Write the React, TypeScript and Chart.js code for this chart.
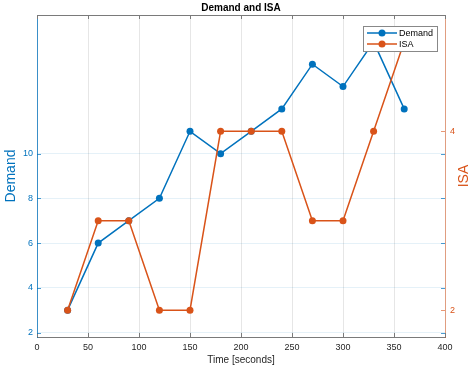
import { useEffect, useRef } from "react";
import { Chart, registerables } from "chart.js";

Chart.register(...registerables);

// Sampled every 30 seconds
const timeSeconds = [30, 60, 90, 120, 150, 180, 210, 240, 270, 300, 330, 360];
const demand = [3, 6, 7, 8, 11, 10, 11, 12, 14, 13, 15, 12];
const isa = [2, 3, 3, 2, 2, 4, 4, 4, 3, 3, 4, 5];

const timeTicks = [0, 50, 100, 150, 200, 250, 300, 350, 400];
const demandTicks = [2, 4, 6, 8, 10];
const isaTicks = [2, 4];
const timeRange = [0, 400];
const demandRange = [1.8, 16.2];
const isaRange = [1.7, 5.3];

const BLUE = "#0072BD";
const ORANGE = "#D95319";
const DARK = "#262626";
const FONT = "'Liberation Sans', Arial, Helvetica, sans-serif";

const W = 469;
const H = 368;

const framePlugin = {
  id: "frame",
  afterDraw(chart: any) {
    const ctx = chart.ctx as CanvasRenderingContext2D;
    const { left, right, top, bottom } = chart.chartArea;
    const sx = chart.scales.x;
    const sl = chart.scales.yL;
    const sr = chart.scales.yR;
    const tl = 4;
    ctx.save();

    // top box edge
    ctx.strokeStyle = "#7a7a7a";
    ctx.lineWidth = 1;
    ctx.beginPath();
    ctx.moveTo(left, top + 0.5);
    ctx.lineTo(right, top + 0.5);
    ctx.stroke();

    // inward tick marks on x (bottom and top)
    ctx.beginPath();
    for (const v of timeTicks) {
      const px = Math.round(sx.getPixelForValue(v)) + 0.5;
      ctx.moveTo(px, bottom);
      ctx.lineTo(px, bottom - tl);
      ctx.moveTo(px, top);
      ctx.lineTo(px, top + tl);
    }
    ctx.stroke();

    // left-axis ticks on both sides
    ctx.strokeStyle = "rgba(0,114,189,0.7)";
    ctx.beginPath();
    for (const v of demandTicks) {
      const py = Math.round(sl.getPixelForValue(v)) + 0.5;
      ctx.moveTo(left, py);
      ctx.lineTo(left + tl, py);
      ctx.moveTo(right, py);
      ctx.lineTo(right - tl, py);
    }
    ctx.stroke();

    // right-axis ticks
    ctx.strokeStyle = "rgba(217,83,25,0.6)";
    ctx.beginPath();
    for (const v of isaTicks) {
      const py = Math.round(sr.getPixelForValue(v)) + 0.5;
      ctx.moveTo(right, py);
      ctx.lineTo(right - tl, py);
    }
    ctx.stroke();

    // right axis label, reading bottom-to-top
    ctx.fillStyle = ORANGE;
    ctx.font = `14px ${FONT}`;
    ctx.textAlign = "center";
    ctx.textBaseline = "middle";
    ctx.translate(464, (top + bottom) / 2);
    ctx.rotate(-Math.PI / 2);
    ctx.fillText("ISA", 0, 0);
    ctx.setTransform(1, 0, 0, 1, 0, 0);

    // title
    ctx.fillStyle = "#000";
    ctx.font = `bold 10px ${FONT}`;
    ctx.textAlign = "center";
    ctx.textBaseline = "middle";
    ctx.fillText("Demand and ISA", (left + right) / 2, 8);

    // legend box
    const bx = right - 82;
    const by = top + 11;
    const bw = 75;
    const bh = 26;
    ctx.fillStyle = "#fff";
    ctx.fillRect(bx, by, bw, bh);
    ctx.strokeStyle = "#888";
    ctx.lineWidth = 1;
    ctx.strokeRect(bx + 0.5, by + 0.5, bw - 1, bh - 1);

    const items = chart.data.datasets.map((d: any) => ({ label: d.label, color: d.borderColor }));
    items.forEach((it: any, i: number) => {
      const y = by + 7 + i * 11;
      ctx.strokeStyle = it.color;
      ctx.lineWidth = 1.5;
      ctx.beginPath();
      ctx.moveTo(bx + 4, y);
      ctx.lineTo(bx + 34, y);
      ctx.stroke();
      ctx.fillStyle = it.color;
      ctx.beginPath();
      ctx.arc(bx + 19, y, 3.5, 0, Math.PI * 2);
      ctx.fill();
      ctx.fillStyle = "#000";
      ctx.font = `9px ${FONT}`;
      ctx.textAlign = "left";
      ctx.textBaseline = "middle";
      ctx.fillText(it.label, bx + 36, y + 0.5);
    });

    ctx.restore();
  },
};

const fixedTicks = (values: number[]) => (scale: any) => {
  scale.ticks = values.map((v) => ({ value: v }));
};

export default function App() {
  const canvasRef = useRef<HTMLCanvasElement | null>(null);

  useEffect(() => {
    const canvas = canvasRef.current;
    if (!canvas) return;
    const chart = new Chart(canvas, {
      type: "line",
      data: {
        datasets: [
          {
            label: "Demand",
            data: timeSeconds.map((t, i) => ({ x: t, y: demand[i] })),
            borderColor: BLUE,
            backgroundColor: BLUE,
            pointBackgroundColor: BLUE,
            pointBorderWidth: 0,
            pointRadius: 3.5,
            borderWidth: 1.5,
            xAxisID: "x",
            yAxisID: "yL",
            order: 1,
          },
          {
            label: "ISA",
            data: timeSeconds.map((t, i) => ({ x: t, y: isa[i] })),
            borderColor: ORANGE,
            backgroundColor: ORANGE,
            pointBackgroundColor: ORANGE,
            pointBorderWidth: 0,
            pointRadius: 3.5,
            borderWidth: 1.5,
            xAxisID: "x",
            yAxisID: "yR",
            order: 0,
          },
        ],
      },
      options: {
        responsive: false,
        animation: false,
        events: [],
        layout: { padding: { top: 15, left: 0, right: 0, bottom: 0 } },
        plugins: {
          legend: { display: false },
          title: { display: false },
          tooltip: { enabled: false },
        },
        scales: {
          x: {
            type: "linear",
            position: "bottom",
            min: timeRange[0],
            max: timeRange[1],
            afterBuildTicks: fixedTicks(timeTicks),
            afterFit: (s: any) => {
              s.height = 31;
            },
            grid: { color: "#e6e6e6", drawTicks: false },
            border: { color: "#7a7a7a" },
            ticks: { color: DARK, font: { family: FONT, size: 9 }, padding: 5, maxRotation: 0 },
            title: {
              display: true,
              text: "Time [seconds]",
              color: DARK,
              font: { family: FONT, size: 10 },
              padding: { top: 0, bottom: 2 },
            },
          },
          yL: {
            type: "linear",
            position: "left",
            min: demandRange[0],
            max: demandRange[1],
            afterBuildTicks: fixedTicks(demandTicks),
            afterFit: (s: any) => {
              s.width = 37;
            },
            grid: { color: "rgba(0,114,189,0.1)", drawTicks: false },
            border: { color: "rgba(0,114,189,0.75)" },
            ticks: { color: BLUE, font: { family: FONT, size: 9 }, padding: 4 },
            title: {
              display: true,
              text: "Demand",
              color: BLUE,
              font: { family: FONT, size: 14, lineHeight: 1 },
              padding: { top: 4, bottom: 0 },
            },
          },
          yR: {
            type: "linear",
            position: "right",
            min: isaRange[0],
            max: isaRange[1],
            afterBuildTicks: fixedTicks(isaTicks),
            afterFit: (s: any) => {
              s.width = 24;
            },
            grid: { drawOnChartArea: false, drawTicks: false },
            border: { color: "rgba(217,83,25,0.5)" },
            ticks: { color: ORANGE, font: { family: FONT, size: 9 }, padding: 5 },
            title: { display: false },
          },
        },
      },
      plugins: [framePlugin],
    } as any);
    return () => chart.destroy();
  }, []);

  return (
    <div style={{ position: "absolute", left: 0, top: 0, width: W, height: H, background: "#fff" }}>
      <canvas ref={canvasRef} width={W} height={H} style={{ display: "block", width: W, height: H }} />
    </div>
  );
}
